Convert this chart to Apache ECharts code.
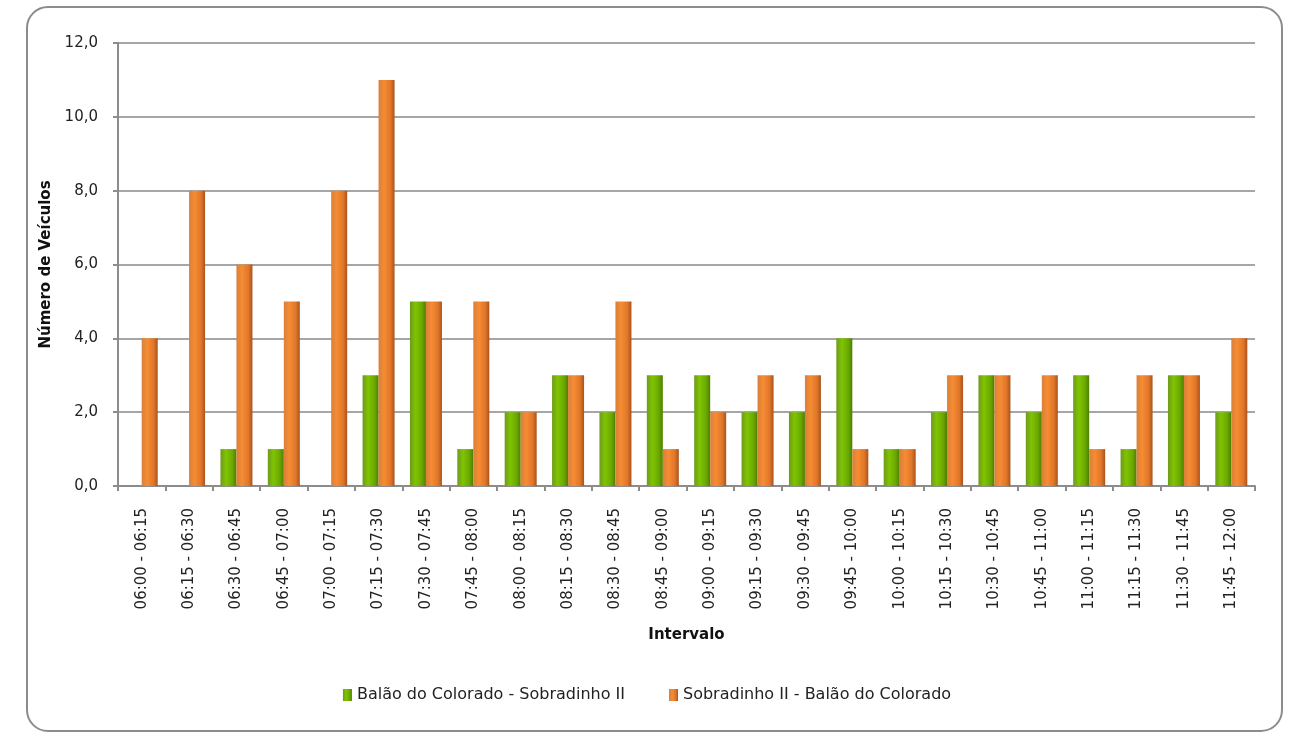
<!DOCTYPE html>
<html><head><meta charset="utf-8">
<script src="https://cdn.jsdelivr.net/npm/echarts@6/dist/echarts.min.js"></script>
<style>
html,body{margin:0;padding:0;background:#fff;}
#frame{position:absolute;left:26px;top:6px;width:1257px;height:726px;border:2px solid #8c8c8c;border-radius:22px;box-sizing:border-box;}
#chart{position:absolute;left:0;top:0;width:1294px;height:738px;}
</style></head>
<body>
<div id="frame"></div>
<div id="chart"></div>
<script>
const categories = ["06:00 - 06:15","06:15 - 06:30","06:30 - 06:45","06:45 - 07:00","07:00 - 07:15","07:15 - 07:30","07:30 - 07:45","07:45 - 08:00","08:00 - 08:15","08:15 - 08:30","08:30 - 08:45","08:45 - 09:00","09:00 - 09:15","09:15 - 09:30","09:30 - 09:45","09:45 - 10:00","10:00 - 10:15","10:15 - 10:30","10:30 - 10:45","10:45 - 11:00","11:00 - 11:15","11:15 - 11:30","11:30 - 11:45","11:45 - 12:00"];
const seriesNames = ["Balão do Colorado - Sobradinho II", "Sobradinho II - Balão do Colorado"];
const greenValues = [0,0,1,1,0,3,5,1,2,3,2,3,3,2,2,4,1,2,3,2,3,1,3,2];
const orangeValues = [4,8,6,5,8,11,5,5,2,3,5,1,2,3,3,1,1,3,3,3,1,3,3,4];
const yTicks = {min:0, max:12, interval:2};

const FONT = "'DejaVu Sans', sans-serif";
function grad(c1,c2,c3,c4){
  return new echarts.graphic.LinearGradient(0,0,1,0,[
    {offset:0,color:c1},{offset:0.35,color:c2},{offset:0.75,color:c3},{offset:1,color:c4}]);
}
const greenGrad = grad('#6e9a1e','#80c400','#6aa800','#4f7d00');
const orangeGrad = grad('#d8803c','#f68c32','#e0762a','#a9531b');

const chart = echarts.init(document.getElementById('chart'));
chart.setOption({
  animation:false,
  backgroundColor:'transparent',
  textStyle:{fontFamily:FONT},
  grid:{left:118,right:39,top:43,bottom:252,containLabel:false},
  legend:{
    top:682,left:'center',icon:'rect',itemWidth:9,itemHeight:12,itemGap:44,
    textStyle:{fontFamily:FONT,fontSize:16,color:'#222'},
    data:[{name:seriesNames[0],itemStyle:{color:greenGrad}},{name:seriesNames[1],itemStyle:{color:orangeGrad}}]
  },
  xAxis:{
    type:'category',data:categories,
    name:'Intervalo',nameLocation:'middle',nameGap:142,
    nameTextStyle:{fontFamily:FONT,fontSize:15,fontWeight:'bold',color:'#111'},
    axisLine:{lineStyle:{color:'#8c8c8c',width:2}},
    axisTick:{show:true,length:5,lineStyle:{color:'#8c8c8c',width:2}},
    axisLabel:{rotate:90,margin:22,fontSize:15,color:'#222',fontFamily:FONT}
  },
  yAxis:{
    type:'value',min:yTicks.min,max:yTicks.max,interval:yTicks.interval,
    name:'Número de Veículos',nameLocation:'middle',nameGap:62,
    nameTextStyle:{fontFamily:FONT,fontSize:15,fontWeight:'bold',color:'#111'},
    axisLine:{show:true,lineStyle:{color:'#8c8c8c',width:2}},
    axisTick:{show:true,length:5,lineStyle:{color:'#8c8c8c',width:2}},
    splitLine:{lineStyle:{color:'#a6a6a6',width:2}},
    axisLabel:{margin:20,fontSize:15,color:'#222',fontFamily:FONT,formatter:v=>v.toFixed(1).replace('.',',')}
  },
  series:[
    {name:seriesNames[0],type:'bar',data:greenValues,barWidth:16,barGap:'0%',itemStyle:{color:greenGrad}},
    {name:seriesNames[1],type:'bar',data:orangeValues,barWidth:16,barGap:'0%',itemStyle:{color:orangeGrad}}
  ]
});
</script>
</body></html>
